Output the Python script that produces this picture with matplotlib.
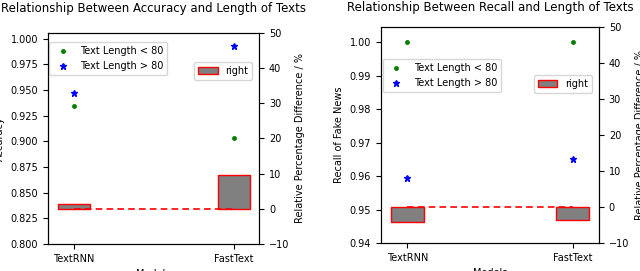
import matplotlib
matplotlib.use("Agg")
import matplotlib.pyplot as plt
import numpy as np

# data
models = ["TextRNN", "FastText"]

acc_short = [0.9345, 0.903]     # Text Length < 80
acc_long = [0.947, 0.9925]      # Text Length > 80
acc_diff = [1.34, 9.5]          # relative difference, %

rec_short = [1.000, 1.000]
rec_long = [0.9593, 0.9651]
rec_diff = [-4.1, -3.6]

plt.rcParams['font.size'] = 7


def draw_panel(fig, rect, short, long_, diff, ylim, yticks, ylabel, title, title_pad,
               leg1_anchor, leg2_anchor):
    x = np.arange(len(models))
    ax = fig.add_axes(rect)
    ax.plot(x, short, 'g.', markersize=5, label='Text Length < 80')
    ax.plot(x, long_, 'b*', markersize=5, label='Text Length > 80')
    ax.set_ylim(ylim)
    ax.set_yticks(yticks)
    ax.set_ylabel(ylabel)
    ax.set_xlabel('Models')
    ax.set_title(title, fontsize=8.5, pad=title_pad)
    ax.legend(loc='upper left', bbox_to_anchor=leg1_anchor, borderaxespad=0)

    # relative percentage difference on the twin axis
    ax2 = ax.twinx()
    ax2.bar(x, diff, width=0.2, color='gray', edgecolor='red', linewidth=1, label='right')
    ax2.plot(x, [0, 0], 'r--', linewidth=1.2, dashes=(4, 2.5))
    ax2.set_ylim(-10, 50)
    ax2.set_ylabel('Relative Percentage Difference / %')
    ax2.legend(loc='upper right', bbox_to_anchor=leg2_anchor, borderaxespad=0)
    ax.set_xticks(x)
    ax.set_xticklabels(models)
    return ax, ax2


fig = plt.figure(figsize=(6.4, 2.71), dpi=100)

draw_panel(fig, [0.075, 0.0996, 0.33, 0.779], acc_short, acc_long, acc_diff,
           (0.8, 1.0055), np.arange(0.8, 1.001, 0.025), 'Accuracy',
           'Relationship Between Accuracy and Length of Texts', 15,
           (0.005, 0.955), (0.967, 0.863))

draw_panel(fig, [0.595, 0.1033, 0.341, 0.798], rec_short, rec_long, rec_diff,
           (0.94, 1.0047), np.arange(0.94, 1.0001, 0.01), 'Recall of Fake News',
           'Relationship Between Recall and Length of Texts', 11,
           (0.008, 0.849), (0.968, 0.776))

fig.savefig('out.png', dpi=100)
